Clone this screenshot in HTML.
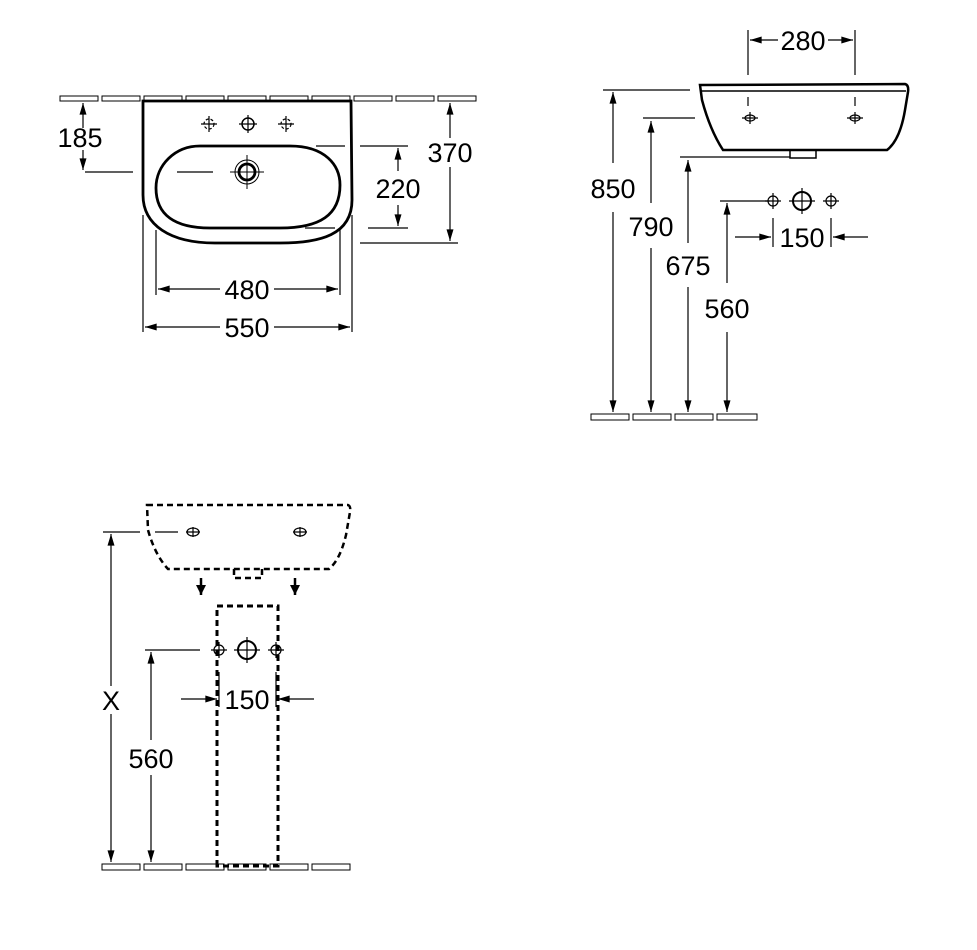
<!DOCTYPE html>
<html><head><style>
html,body{margin:0;padding:0;background:#fff;}
svg{display:block;}
text{font-family:"Liberation Sans",sans-serif;font-size:27px;fill:#000;text-anchor:middle;}
</style></head><body>
<svg width="977" height="950" viewBox="0 0 977 950" xmlns="http://www.w3.org/2000/svg">
<defs>
<marker id="a" viewBox="0 0 10 6" refX="10" refY="3" markerWidth="16" markerHeight="7" markerUnits="userSpaceOnUse" orient="auto"><path d="M0,0L10,3L0,6z" fill="#000"/></marker>
<marker id="b" viewBox="0 0 10 10" refX="10" refY="5" markerWidth="10" markerHeight="11" markerUnits="userSpaceOnUse" orient="auto"><path d="M0,0L10,5L0,10z" fill="#000"/></marker>
</defs>
<g fill="none" stroke="#000" stroke-width="1.2">
<g stroke-width="1">
<rect x="60" y="96" width="38" height="5"/><rect x="102" y="96" width="38" height="5"/><rect x="144" y="96" width="38" height="5"/><rect x="186" y="96" width="38" height="5"/><rect x="228" y="96" width="38" height="5"/><rect x="270" y="96" width="38" height="5"/><rect x="312" y="96" width="38" height="5"/><rect x="354" y="96" width="38" height="5"/><rect x="396" y="96" width="38" height="5"/><rect x="438" y="96" width="38" height="5"/>
</g>
<path d="M143,101 L351,101 L352,200 C352,235 320,243 280,243 L215,243 C170,243 143,225 143,195 Z" stroke-width="2.8"/>
<path d="M200,146 L290,146 C325,146 340,165 340,185 C340,215 320,228 280,228 L210,228 C175,228 156,215 156,188 C156,165 175,146 200,146 Z" stroke-width="2.8"/>
<circle cx="247" cy="172" r="8" stroke-width="2.8"/><circle cx="247" cy="172" r="12" stroke-width="1"/>
<path d="M230,172H264M247,155V189" stroke-width="1"/>
<circle cx="209" cy="124" r="5" stroke-dasharray="3 2"/><path d="M201,124H217M209,116V132"/>
<circle cx="248" cy="124" r="6" stroke-width="1.5"/><path d="M239,124H257M248,115V133"/>
<circle cx="286" cy="124" r="5" stroke-dasharray="3 2"/><path d="M278,124H294M286,116V132"/>
<path d="M177,172H213"/>
<path d="M85,172H133"/>
<path d="M83,128V103" marker-end="url(#a)"/><path d="M83,150V170" marker-end="url(#a)"/>
<path d="M450,138V103" marker-end="url(#a)"/><path d="M450,167V241" marker-end="url(#a)"/><path d="M360,243H458"/>
<path d="M316,146H345M360,146H408M305,228H335M368,228H408"/>
<path d="M398,171V148" marker-end="url(#a)"/><path d="M398,205V226" marker-end="url(#a)"/>
<path d="M156,230V295M340,230V295M143,215V332M352,215V332"/>
<path d="M220,289H158" marker-end="url(#a)"/><path d="M274,289H338" marker-end="url(#a)"/>
<path d="M220,327H145" marker-end="url(#a)"/><path d="M274,327H350" marker-end="url(#a)"/>
<path d="M700,85 L905,84 Q909,85 908,92 L905,110 Q900,140 887,150 L723,150 Q710,130 702,100 Z" stroke-width="2.5"/>
<path d="M702,91H906" stroke-width="1.5"/>
<rect x="790" y="150" width="26" height="8" stroke-width="1.5"/>
<path d="M748,30V75M855,30V75M748,97V106M855,97V106"/>
<ellipse cx="750" cy="118" rx="5" ry="3"/><path d="M742,118H758M750,112V124"/>
<ellipse cx="855" cy="118" rx="5" ry="3"/><path d="M847,118H863M855,112V124"/>
<path d="M778,40H750" marker-end="url(#a)"/><path d="M828,40H853" marker-end="url(#a)"/>
<path d="M603,90H690M643,118H695M680,157H790M720,201H770"/>
<path d="M613,163V92" marker-end="url(#a)"/><path d="M613,212V412" marker-end="url(#a)"/>
<path d="M651,203V121" marker-end="url(#a)"/><path d="M651,248V412" marker-end="url(#a)"/>
<path d="M688,243V160" marker-end="url(#a)"/><path d="M688,287V412" marker-end="url(#a)"/>
<path d="M727,283V203" marker-end="url(#a)"/><path d="M727,332V412" marker-end="url(#a)"/>
<circle cx="773" cy="201" r="5"/><path d="M765,201H781M773,193V209"/>
<circle cx="802" cy="201" r="9" stroke-width="2"/><path d="M789,201H815M802,188V214"/>
<circle cx="831" cy="201" r="5"/><path d="M823,201H839M831,193V209"/>
<path d="M773,218V247M831,218V247"/>
<path d="M735,237H771" marker-end="url(#a)"/><path d="M868,237H833" marker-end="url(#a)"/>
<g stroke-width="1"><rect x="591" y="414" width="38" height="6"/><rect x="633" y="414" width="38" height="6"/><rect x="675" y="414" width="38" height="6"/><rect x="717" y="414" width="40" height="6"/></g>
<g stroke-width="2.5" stroke-dasharray="6 4">
<path d="M147,505 L348,505 Q351,506 350,512 L346,535 Q340,560 329,569 L168,569 Q155,555 148,530 Z"/>
<path d="M234,569 V578 H262 V569"/>
<path d="M217,866 V606 H278 V866 Z" stroke-width="3"/>
</g>
<ellipse cx="193" cy="532" rx="6" ry="4"/><path d="M186,532H200M193,527V537"/>
<ellipse cx="300" cy="532" rx="6" ry="4"/><path d="M293,532H307M300,527V537"/>
<path d="M201,578V595" stroke-width="2.5" marker-end="url(#b)"/>
<path d="M295,578V595" stroke-width="2.5" marker-end="url(#b)"/>
<path d="M103,532H140M155,532H178"/>
<path d="M111,686V534" marker-end="url(#a)"/><path d="M111,714V862" marker-end="url(#a)"/>
<path d="M145,650H200"/>
<path d="M151,740V652" marker-end="url(#a)"/><path d="M151,775V862" marker-end="url(#a)"/>
<circle cx="219" cy="650" r="5"/><path d="M211,650H227M219,642V658"/>
<circle cx="247" cy="650" r="9" stroke-width="2"/><path d="M234,650H260M247,637V663"/>
<circle cx="276" cy="650" r="5"/><path d="M268,650H284M276,642V658"/>
<path d="M219,672V707M276,672V707"/>
<path d="M181,699H217" marker-end="url(#a)"/><path d="M314,699H278" marker-end="url(#a)"/>
<g stroke-width="1"><rect x="102" y="864" width="38" height="6"/><rect x="144" y="864" width="38" height="6"/><rect x="186" y="864" width="38" height="6"/><rect x="228" y="864" width="38" height="6"/><rect x="270" y="864" width="38" height="6"/><rect x="312" y="864" width="38" height="6"/></g>
</g>
<text x="80" y="147">185</text>
<text x="450" y="162">370</text>
<text x="398" y="198">220</text>
<text x="247" y="299">480</text>
<text x="247" y="337">550</text>
<text x="803" y="50">280</text>
<text x="613" y="198">850</text>
<text x="651" y="236">790</text>
<text x="688" y="275">675</text>
<text x="727" y="318">560</text>
<text x="802" y="247">150</text>
<text x="111" y="710">X</text>
<text x="151" y="768">560</text>
<text x="247" y="709">150</text>
</svg>
</body></html>
